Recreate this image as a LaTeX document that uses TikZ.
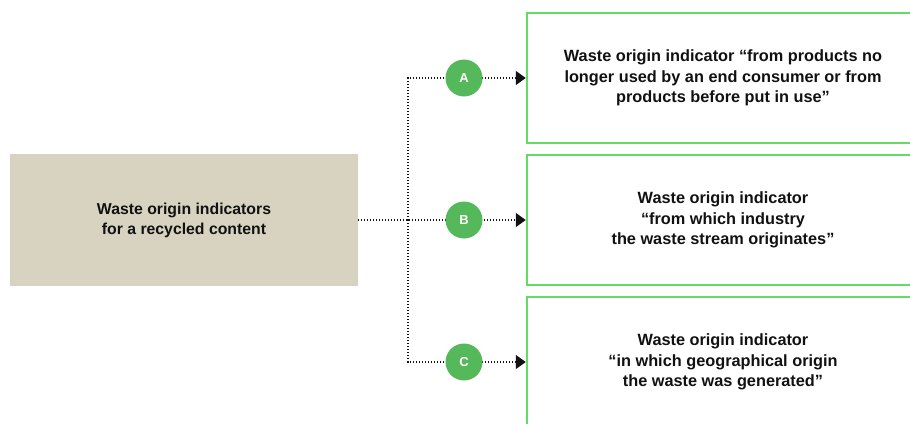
\documentclass[tikz,border=0pt]{standalone}
\usepackage{fontspec}
\setmainfont{Liberation Sans}
\usepackage{xcolor}
\usetikzlibrary{arrows.meta,positioning,calc}
\definecolor{wastebeige}{HTML}{D8D3C0}
\definecolor{wastegreen}{HTML}{62DC62}
\definecolor{wastedot}{HTML}{55B85A}
\definecolor{wasteink}{HTML}{111111}

\begin{document}
\begin{tikzpicture}[
    x=1pt,y=-1pt,
    src/.style = {rectangle,fill=wastebeige,minimum width=348pt,minimum height=132pt,
                  inner sep=0pt,align=center,text=wasteink,
                  font=\bfseries\fontsize{15.8}{20}\selectfont},
    ind/.style = {rectangle,draw=wastegreen,line width=2.5pt,minimum width=392pt,
                  minimum height=130pt,inner sep=0pt,align=center,text=wasteink,
                  font=\bfseries\fontsize{16.3}{20.3}\selectfont},
    tag/.style = {circle,fill=wastedot,minimum size=37pt,inner sep=0pt,text=white,
                  font=\bfseries\fontsize{13}{13}\selectfont},
    fl/.style  = {-{Triangle[length=10pt,width=14pt]},wasteink,line width=1.2pt,
                  dash pattern=on 1.2pt off 1.8pt},
  ]
  \useasboundingbox (0,0) rectangle (910,423);
  \clip (0,0) rectangle (910,423);

  \node[src] (src) at (184,220) {Waste origin indicators\\for a recycled content};

  \node[ind] (a) at (723,78)  {Waste origin indicator “from products no\\longer used by an end consumer or from\\products before put in use”};
  \node[ind] (b) at (723,220) {Waste origin indicator\\“from which industry\\the waste stream originates”};
  \node[ind] (c) at (723,362) {Waste origin indicator\\“in which geographical origin\\the waste was generated”};

  \coordinate (split) at (408,220);
  \draw[fl] (src.east) -- (b.west);
  \foreach \y in {a,c} \draw[fl] (split) |- (\y.west);

  \node[tag] (ta) at (464,78)  {A};
  \node[tag] (tb) at (464,220) {B};
  \node[tag] (tc) at (464,362) {C};

\end{tikzpicture}
\end{document}
